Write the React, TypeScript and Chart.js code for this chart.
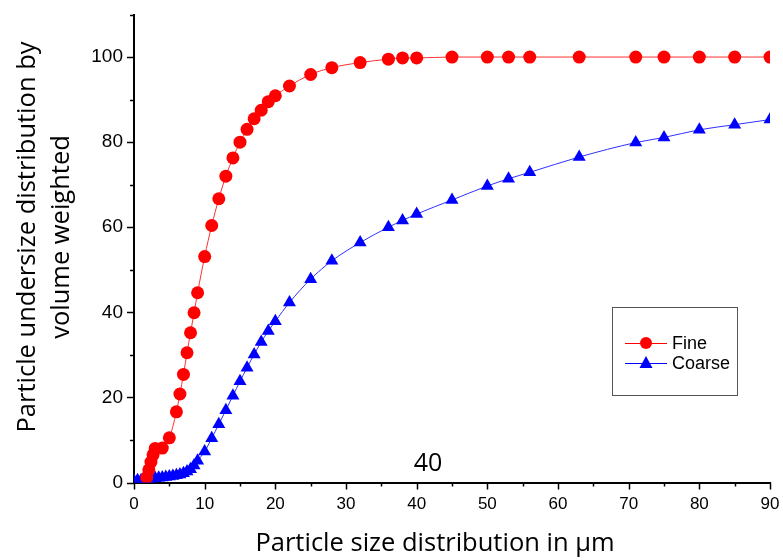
import { useEffect, useRef } from "react";
import { Chart, registerables } from "chart.js";

Chart.register(...registerables);

// ---- data ----
const fineX = [1.8, 2.1, 2.4, 2.7, 3, 4, 5, 6, 6.5, 7, 7.5, 8, 8.5, 9, 10, 11, 12, 13, 14, 15, 16, 17, 18, 19, 20, 22, 25, 28, 32, 36, 38, 40, 45, 50, 53, 56, 63, 71, 75, 80, 85, 90];
const fineY = [1.2, 3.0, 4.8, 6.5, 8.0, 8.1, 10.5, 16.6, 20.8, 25.4, 30.5, 35.2, 39.9, 44.6, 53.1, 60.4, 66.7, 72.0, 76.3, 80.0, 83.0, 85.5, 87.5, 89.5, 90.9, 93.2, 95.9, 97.5, 98.7, 99.5, 99.8, 99.8, 100, 100, 100, 100, 100, 100, 100, 100, 100, 100];

const coarseX = [0, 0.5, 1, 1.5, 2, 2.5, 3, 3.5, 4, 4.5, 5, 5.5, 6, 6.5, 7, 7.5, 8, 8.5, 9, 10, 11, 12, 13, 14, 15, 16, 17, 18, 19, 20, 22, 25, 28, 32, 36, 38, 40, 45, 50, 53, 56, 63, 71, 75, 80, 85, 90];
const coarseY = [0.4, 0.5, 0.5, 0.6, 0.7, 0.8, 1.0, 1.1, 1.2, 1.3, 1.4, 1.5, 1.7, 1.9, 2.2, 2.6, 3.1, 4.0, 5.1, 7.3, 10.4, 13.7, 17.0, 20.4, 23.8, 27.0, 30.1, 33.0, 35.6, 37.9, 42.3, 47.8, 52.1, 56.4, 60.0, 61.6, 63.1, 66.4, 69.7, 71.4, 72.9, 76.5, 79.9, 81.1, 82.9, 84.1, 85.3];

const seriesNames = ["Fine", "Coarse"];
const xMajorTicks = [0, 10, 20, 30, 40, 50, 60, 70, 80, 90];
const xMinorTicks = [5, 15, 25, 35, 45, 55, 65, 75, 85];
const yMajorTicks = [0, 20, 40, 60, 80, 100];
const yMinorTicks = [10, 30, 50, 70, 90, 110];
const xTitle = "Particle size distribution in μm";
const yTitleLines = ["Particle undersize distribution by", "volume weighted"];
const strayLabel = "40";

const RED = "#ff0000";
const BLUE = "#0000ff";
const TITLE_FONT = "25.5px 'Open Sans', Lato, sans-serif";

const decorPlugin = {
  id: "decor",
  afterDraw(chart: any) {
    const ctx = chart.ctx as CanvasRenderingContext2D;
    const xs = chart.scales.x;
    const ys = chart.scales.y;
    const area = chart.chartArea;
    ctx.save();
    // ticks (outward)
    ctx.strokeStyle = "#000";
    ctx.lineWidth = 1.5;
    const tickX = (v: number, len: number) => {
      const px = Math.round(xs.getPixelForValue(v)) + 0.5;
      ctx.beginPath();
      ctx.moveTo(px, area.bottom);
      ctx.lineTo(px, area.bottom + len);
      ctx.stroke();
    };
    const tickY = (v: number, len: number) => {
      const py = Math.round(ys.getPixelForValue(v)) + 0.5;
      ctx.beginPath();
      ctx.moveTo(area.left, py);
      ctx.lineTo(area.left - len, py);
      ctx.stroke();
    };
    xMajorTicks.forEach((v) => tickX(v, 7));
    xMinorTicks.forEach((v) => tickX(v, 4));
    yMajorTicks.forEach((v) => tickY(v, 7));
    yMinorTicks.forEach((v) => tickY(v, 4));

    // titles
    ctx.fillStyle = "#000";
    ctx.font = TITLE_FONT;
    ctx.textAlign = "center";
    ctx.textBaseline = "middle";
    ctx.fillText(xTitle, 435, 544);
    ctx.save();
    ctx.translate(28, 237);
    ctx.rotate(-Math.PI / 2);
    ctx.fillText(yTitleLines[0], 0, 0);
    ctx.restore();
    ctx.save();
    ctx.translate(62, 237);
    ctx.rotate(-Math.PI / 2);
    ctx.fillText(yTitleLines[1], 0, 0);
    ctx.restore();

    // stray label
    ctx.font = "25px 'Open Sans', Lato, sans-serif";
    ctx.textAlign = "center";
    ctx.fillText(strayLabel, 428, 464);

    // legend box
    const lx = 612, ly = 307, lw = 125, lh = 88;
    ctx.strokeStyle = "#555";
    ctx.lineWidth = 1;
    ctx.strokeRect(lx + 0.5, ly + 0.5, lw, lh);
    const rows = [
      { name: seriesNames[0], color: RED, style: "circle", y: 343 },
      { name: seriesNames[1], color: BLUE, style: "triangle", y: 363 },
    ];
    ctx.font = "18px 'Liberation Sans', Arial, sans-serif";
    ctx.textAlign = "left";
    ctx.textBaseline = "middle";
    rows.forEach((r) => {
      ctx.strokeStyle = r.color;
      ctx.lineWidth = 1;
      ctx.beginPath();
      ctx.moveTo(625, r.y + 0.5);
      ctx.lineTo(667, r.y + 0.5);
      ctx.stroke();
      ctx.fillStyle = r.color;
      ctx.beginPath();
      if (r.style === "circle") {
        ctx.arc(646, r.y, 6, 0, Math.PI * 2);
      } else {
        ctx.moveTo(646, r.y - 7);
        ctx.lineTo(652.5, r.y + 5);
        ctx.lineTo(639.5, r.y + 5);
        ctx.closePath();
      }
      ctx.fill();
      ctx.fillStyle = "#000";
      ctx.fillText(r.name, 672, r.y + 1);
    });
    ctx.restore();
  },
};

export default function App() {
  const ref = useRef<HTMLCanvasElement | null>(null);
  useEffect(() => {
    if (!ref.current) return;
    const chart = new Chart(ref.current, {
      type: "line",
      data: {
        datasets: [
          {
            label: seriesNames[0],
            data: fineX.map((x, i) => ({ x, y: fineY[i] })),
            borderColor: "#ff3030",
            backgroundColor: RED,
            borderWidth: 1,
            pointStyle: "circle",
            pointRadius: 6.5,
            pointBorderWidth: 0,
            pointBackgroundColor: RED,
            cubicInterpolationMode: "monotone",
          },
          {
            label: seriesNames[1],
            data: coarseX.map((x, i) => ({ x, y: coarseY[i] })),
            borderColor: "#3030ff",
            backgroundColor: BLUE,
            borderWidth: 1,
            pointStyle: "triangle",
            pointRadius: 7.5,
            pointBorderWidth: 0,
            pointBackgroundColor: BLUE,
            cubicInterpolationMode: "monotone",
          },
        ],
      },
      options: {
        animation: false,
        responsive: false,
        devicePixelRatio: 1,
        layout: { padding: { top: 14.5, right: 13, left: 0, bottom: 0 } },
        plugins: { legend: { display: false }, tooltip: { enabled: false } },
        scales: {
          x: {
            type: "linear",
            min: 0,
            max: 90,
            grid: { display: false, drawTicks: false, tickLength: 0 },
            border: { display: true, color: "#000", width: 2 },
            ticks: {
              stepSize: 10,
              color: "#000",
              padding: 12,
              font: { family: "'Liberation Sans', Arial, sans-serif", size: 17 },
              maxRotation: 0,
            },
            afterFit: (s: any) => {
              s.height = 77.5;
              s.paddingLeft = 0;
              s.paddingRight = 0;
            },
          },
          y: {
            type: "linear",
            min: 0,
            max: 110,
            grid: { display: false, drawTicks: false, tickLength: 0 },
            border: { display: true, color: "#000", width: 2 },
            ticks: {
              stepSize: 20,
              color: "#000",
              padding: 11,
              font: { family: "'Liberation Sans', Arial, sans-serif", size: 19 },
              callback: (v: any) => (Number(v) % 20 === 0 && Number(v) <= 100 ? String(v) : ""),
            },
            afterFit: (s: any) => {
              s.width = 134;
              s.paddingTop = 0;
              s.paddingBottom = 0;
            },
          },
        },
      },
      plugins: [decorPlugin],
    } as any);
    return () => chart.destroy();
  }, []);
  return (
    <div style={{ position: "fixed", left: 0, top: 0, width: 783, height: 560, background: "#fff" }}>
      <canvas ref={ref} width={783} height={560} />
    </div>
  );
}
